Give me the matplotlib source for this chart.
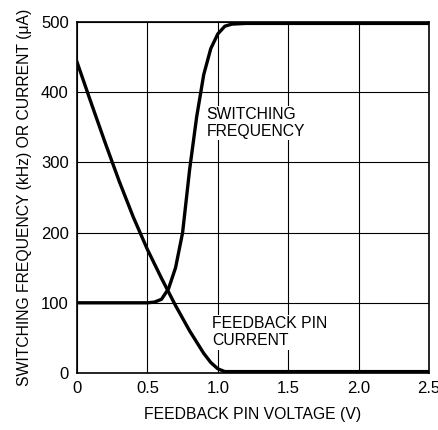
import matplotlib
matplotlib.use("Agg")
import matplotlib.pyplot as plt

plt.rcParams["font.family"] = ["Liberation Sans", "DejaVu Sans"]

# スイッチング周波数 (kHz)
freq_v = [0, 0.5, 0.55, 0.6, 0.65, 0.7, 0.75, 0.775, 0.8, 0.85, 0.9, 0.95, 1.0,
          1.05, 1.1, 1.2, 2.5]
freq_khz = [100, 100, 101, 105, 120, 150, 200, 245, 290, 365, 425, 462, 483,
            494, 497, 498, 498]

# フィードバックピン電流 (uA)
cur_v = [0, 0.1, 0.2, 0.3, 0.4, 0.5, 0.6, 0.7, 0.8, 0.9, 0.95, 1.0, 1.05, 2.5]
cur_ua = [443, 385, 328, 273, 222, 176, 135, 96, 60, 28, 15, 6, 2, 2]

x_ticks = [0, 0.5, 1.0, 1.5, 2.0, 2.5]
x_labels = ["0", "0.5", "1.0", "1.5", "2.0", "2.5"]
y_ticks = [0, 100, 200, 300, 400, 500]

fig = plt.figure(figsize=(4.38, 4.30), dpi=100)
ax = fig.add_axes([77 / 438, 57 / 430, 352 / 438, 351 / 430])

ax.plot(freq_v, freq_khz, color="black", lw=2.4, solid_joinstyle="round", zorder=3)
ax.plot(cur_v, cur_ua, color="black", lw=2.4, solid_joinstyle="round", zorder=3)

ax.set_xlim(0, 2.5)
ax.set_ylim(0, 500)
ax.set_xticks(x_ticks)
ax.set_xticklabels(x_labels)
ax.set_yticks(y_ticks)
ax.tick_params(length=0, labelsize=12, pad=6)
ax.grid(True, color="black", lw=0.8)
for s in ax.spines.values():
    s.set_linewidth(1.2)

ax.set_xlabel("FEEDBACK PIN VOLTAGE (V)", fontsize=11.3, labelpad=8)
ax.set_ylabel("SWITCHING FREQUENCY (kHz) OR CURRENT (\u03bcA)", fontsize=11.3, labelpad=6)

box = dict(facecolor="white", edgecolor="none", pad=1)
ax.text(0.92, 356, "SWITCHING\nFREQUENCY", fontsize=11.3, va="center", ha="left",
        linespacing=1.15, bbox=box, zorder=4)
ax.text(0.96, 58, "FEEDBACK PIN\nCURRENT", fontsize=11.3, va="center", ha="left",
        linespacing=1.15, bbox=box, zorder=4)

fig.savefig("out.png", dpi=100)
